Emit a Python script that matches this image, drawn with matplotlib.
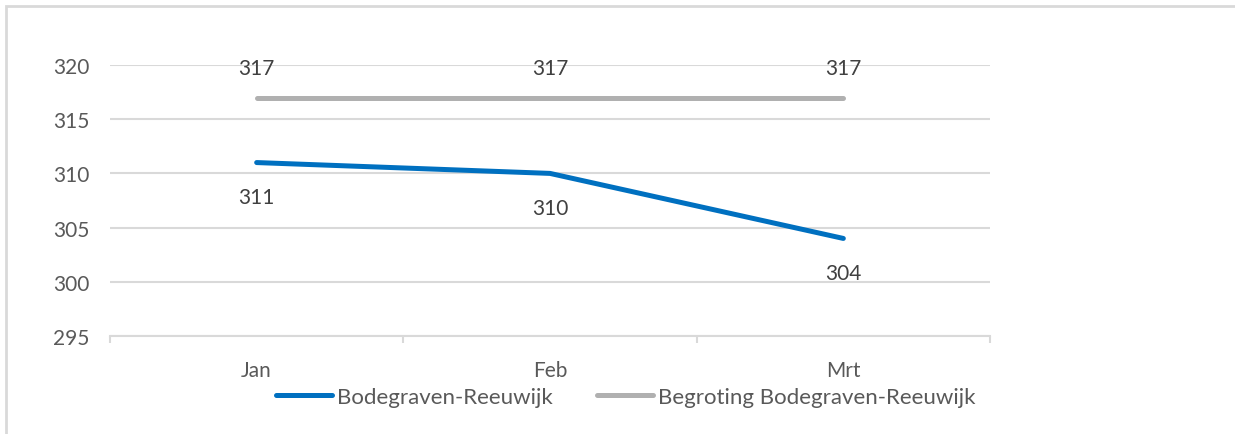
import matplotlib
matplotlib.use("Agg")
import matplotlib.pyplot as plt
from matplotlib.patches import Rectangle

months = ['Jan', 'Feb', 'Mrt']
actual = [311, 310, 304]
budget = [317, 317, 317]
series_names = ['Bodegraven-Reeuwijk', 'Begroting Bodegraven-Reeuwijk']
yticks = [295, 300, 305, 310, 315, 320]

BLUE = '#0070C0'
GREY = '#B0B0B0'
TXT = '#595959'
GRID = '#D9D9D9'

plt.rcParams['font.family'] = ['Lato', 'DejaVu Sans']

fig = plt.figure(figsize=(12.35, 4.35), dpi=100)
ax = fig.add_axes([110/1235, 1-337/435, 880/1235, 271/435])

x = range(len(months))
l1, = ax.plot(x, actual, color=BLUE, lw=3.6, solid_capstyle='round', label=series_names[0])
l2, = ax.plot(x, budget, color=GREY, lw=3.6, solid_capstyle='round', label=series_names[1])

for i, v in enumerate(actual):
    ax.annotate(str(v), (i, v), xytext=(0, -25), textcoords='offset points',
                ha='center', va='center', fontsize=15, color='#404040')
for i, v in enumerate(budget):
    ax.annotate(str(v), (i, v), xytext=(0, 21.5), textcoords='offset points',
                ha='center', va='center', fontsize=15, color='#404040')

ax.set_xlim(-0.5, 2.5)
ax.set_ylim(295, 320)
ax.set_yticks(yticks)
ax.set_xticks(list(x))
ax.set_xticklabels(months)
ax.set_xticks([-0.5, 0.5, 1.5, 2.5], minor=True)
ax.tick_params(axis='x', which='major', length=0, pad=17, labelsize=15, labelcolor=TXT)
ax.tick_params(axis='x', which='minor', length=5, color=GRID, width=1.5)
ax.tick_params(axis='y', length=0, pad=15, labelsize=15, labelcolor=TXT)
ax.grid(axis='y', color=GRID, lw=1.5)
ax.set_axisbelow(True)
for s in ['top', 'right', 'left']:
    ax.spines[s].set_visible(False)
ax.spines['bottom'].set_color(GRID)
ax.spines['bottom'].set_linewidth(1.5)

fig.legend(handles=[l1, l2], loc='center', bbox_to_anchor=(626/1235, 1-398/435),
           ncol=2, frameon=False, fontsize=16, labelcolor=TXT,
           handlelength=2.5, handletextpad=0.25, columnspacing=2.0)

# outer chart border (left and top visible)
fig.patches.append(Rectangle((6/1235, -0.1), 1.2, 1.1-7/435, transform=fig.transFigure,
                             fill=False, edgecolor=GRID, lw=2))

fig.savefig('out.png', dpi=100)
